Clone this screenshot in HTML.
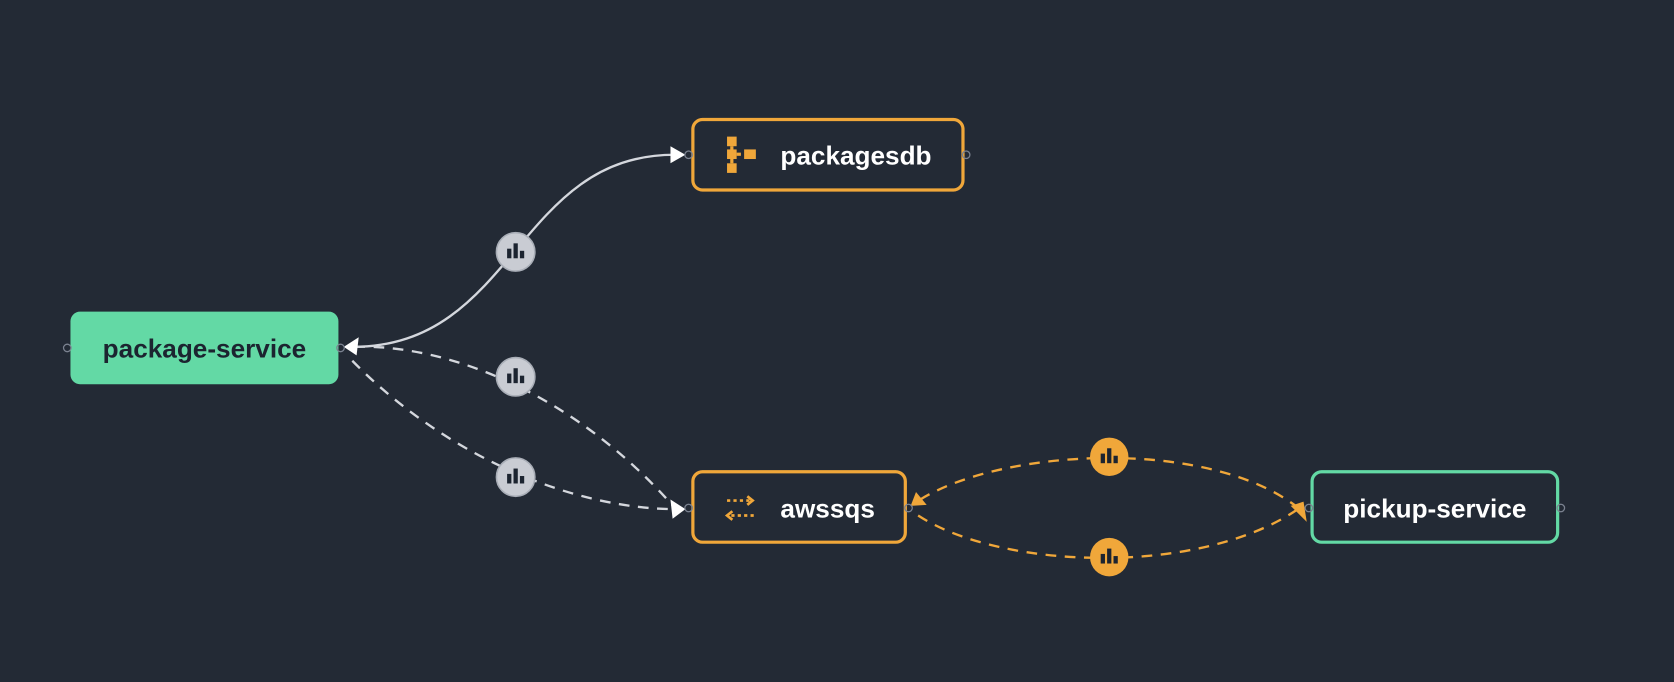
<!DOCTYPE html>
<html><head><meta charset="utf-8"><style>
html,body{margin:0;padding:0;background:#232a35;}
svg{display:block}
text{font-family:"Liberation Sans",Arial,sans-serif;font-weight:bold;font-size:24.5px;}
</style></head><body>
<svg width="1674" height="682" viewBox="0 0 1568 639" preserveAspectRatio="none" xmlns="http://www.w3.org/2000/svg">
<rect width="1568" height="639" fill="#232a35"/>
<path d="M330,325 C483,325 483,145 632,145" fill="none" stroke="#d4d7dd" stroke-width="2.2"/>
<path d="M332,325 C420,322 540,370 633,477" fill="none" stroke="#d4d7dd" stroke-width="2.2" stroke-dasharray="10,8"/>
<path d="M330,338 C420,430 540,477 633,477" fill="none" stroke="#d4d7dd" stroke-width="2.2" stroke-dasharray="10,8"/>
<path d="M862,468 C940,420 1130,410 1215,475" fill="none" stroke="#f0a73a" stroke-width="2.2" stroke-dasharray="10,8"/>
<path d="M860,483 C940,535 1130,540 1220,474" fill="none" stroke="#f0a73a" stroke-width="2.2" stroke-dasharray="10,8"/>
<polygon points="642,145 628,137 628,153" fill="#ffffff"/>
<polygon points="322,325 336,316 334,333" fill="#ffffff"/>
<polygon points="642,477 628,468 630,486" fill="#ffffff"/>
<polygon points="1224,489 1209,474 1221,470" fill="#f0a73a"/>
<polygon points="853,474 858,461 868,473" fill="#f0a73a"/>
<rect x="66" y="292" width="251" height="68" rx="9" fill="#63d9a5"/>
<text x="191.5" y="335" text-anchor="middle" fill="#1c2430">package-service</text>
<rect x="649" y="112" width="253" height="66" rx="9" fill="#232a35" stroke="#f0a73a" stroke-width="3"/>
<text x="731" y="154" fill="#ffffff">packagesdb</text>
<g fill="#f0a73a">
<rect x="681" y="128" width="9" height="9"/><rect x="681" y="153" width="9" height="9"/>
<rect x="681" y="140" width="9" height="9"/><rect x="690" y="143" width="4" height="3"/>
<rect x="697" y="140" width="11" height="9"/><rect x="684" y="137" width="3" height="16"/>
</g>
<rect x="649" y="442" width="199" height="66" rx="9" fill="#232a35" stroke="#f0a73a" stroke-width="3"/>
<text x="731" y="485" fill="#ffffff">awssqs</text>
<g stroke="#f0a73a" stroke-width="2.5" fill="none">
<path d="M681,469 H704" stroke-dasharray="3,3"/><path d="M700,465 L705,469 L700,473"/>
<path d="M706,483 H683" stroke-dasharray="3,3"/><path d="M686,479 L681,483 L686,487"/>
</g>
<rect x="1229" y="442" width="230" height="66" rx="9" fill="#232a35" stroke="#63d9a5" stroke-width="3"/>
<text x="1344" y="485" text-anchor="middle" fill="#ffffff">pickup-service</text>
<g fill="none" stroke="#7b8290" stroke-width="1.2">
<circle cx="63" cy="326" r="3.5"/><circle cx="319" cy="326" r="3.5"/>
<circle cx="645" cy="145" r="3.5"/><circle cx="905" cy="145" r="3.5"/>
<circle cx="645" cy="476" r="3.5"/><circle cx="851" cy="476" r="3.5"/>
<circle cx="1226" cy="476" r="3.5"/><circle cx="1462" cy="476" r="3.5"/>
</g>
<g>
<circle cx="483" cy="236" r="18" fill="#c9ccd3" stroke="#a9aeb7" stroke-width="1.5"/>
<circle cx="483" cy="353" r="18" fill="#c9ccd3" stroke="#a9aeb7" stroke-width="1.5"/>
<circle cx="483" cy="447" r="18" fill="#c9ccd3" stroke="#a9aeb7" stroke-width="1.5"/>
<circle cx="1039" cy="428" r="18" fill="#f0a73a"/>
<circle cx="1039" cy="522" r="18" fill="#f0a73a"/>
</g>
<g fill="#1c2430">
<rect x="475" y="233" width="4" height="9"/><rect x="481" y="228" width="4" height="14"/><rect x="487" y="235" width="4" height="7"/>
<rect x="475" y="350" width="4" height="9"/><rect x="481" y="345" width="4" height="14"/><rect x="487" y="352" width="4" height="7"/>
<rect x="475" y="444" width="4" height="9"/><rect x="481" y="439" width="4" height="14"/><rect x="487" y="446" width="4" height="7"/>
<rect x="1031" y="425" width="4" height="9"/><rect x="1037" y="420" width="4" height="14"/><rect x="1043" y="427" width="4" height="7"/>
<rect x="1031" y="519" width="4" height="9"/><rect x="1037" y="514" width="4" height="14"/><rect x="1043" y="521" width="4" height="7"/>
</g>
</svg>
</body></html>
